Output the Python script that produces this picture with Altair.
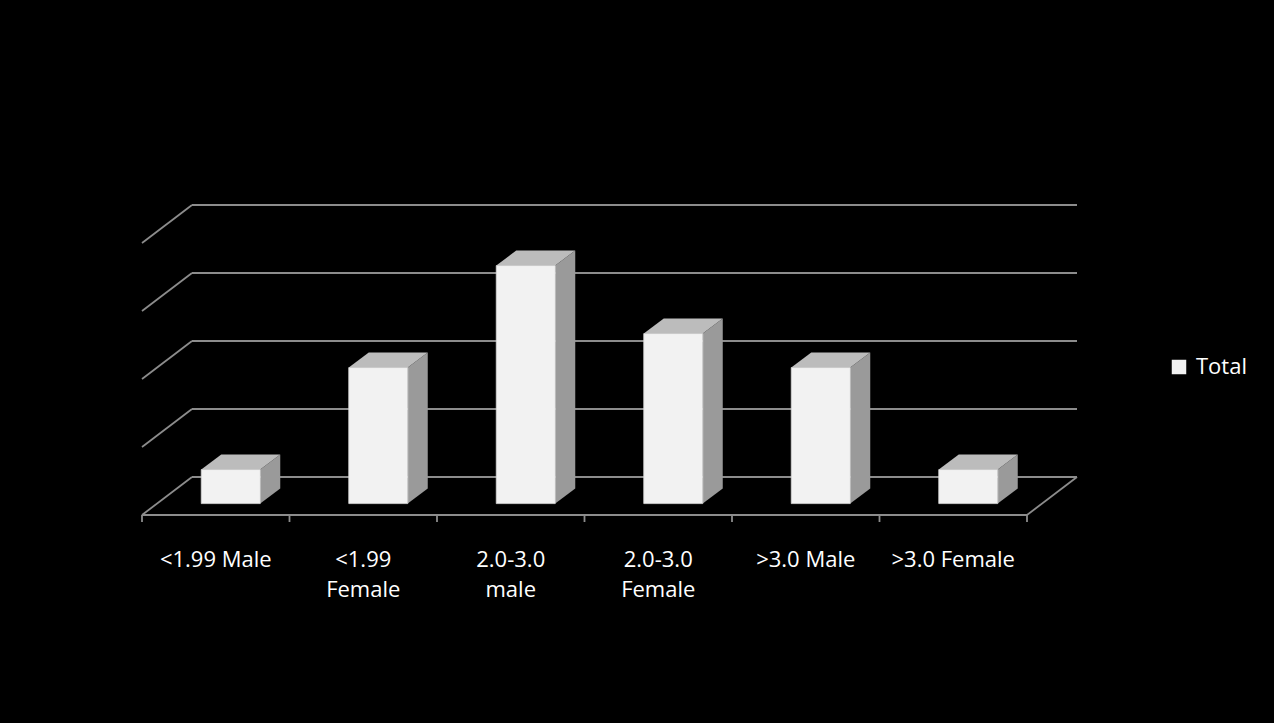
import altair as alt
import pandas as pd

# ---- data ----
categories = ["<1.99 Male", "<1.99\nFemale", "2.0-3.0\nmale", "2.0-3.0\nFemale", ">3.0 Male", ">3.0 Female"]
values = [1, 4, 7, 5, 4, 1]
gridlines = [0, 2, 4, 6, 8]
series_name = "Total"

# ---- pseudo-3D projection parameters (in scale units) ----
D = 50 / 147.5   # horizontal depth shift of the back wall (category units)
H = 38 / 34      # vertical depth shift of the back wall (value units)
N = len(categories)
FRONT, BACK = 0.3, 0.7   # bar depth span (0 = front of floor, 1 = back wall)

front_rows, side_rows, top_rows = [], [], []
for i, (c, v) in enumerate(zip(categories, values)):
    front_rows.append(dict(cat=c, series=series_name,
                           x1=i + 0.3 + FRONT * D, x2=i + 0.7 + FRONT * D,
                           y1=-(1 - FRONT) * H, y2=v - (1 - FRONT) * H))
    for d in (FRONT, BACK):
        side_rows.append(dict(cat=c, x=i + 0.7 + d * D,
                              top=v - (1 - d) * H, bot=-(1 - d) * H))
        top_rows.append(dict(cat=c, y=v - (1 - d) * H,
                             xl=i + 0.3 + d * D, xr=i + 0.7 + d * D))
front_df = pd.DataFrame(front_rows)
side_df = pd.DataFrame(side_rows)
top_df = pd.DataFrame(top_rows)

back_grid = pd.DataFrame(dict(x=[D] * len(gridlines), x2=[N + D] * len(gridlines), y=gridlines))
left_grid = pd.DataFrame(dict(x=[0] * len(gridlines), x2=[D] * len(gridlines),
                              y=[g - H for g in gridlines], y2=gridlines))
floor_df = pd.DataFrame(dict(x=[0, N], x2=[N, N + D], y=[-H, -H], y2=[-H, 0]))
tick_df = pd.DataFrame(dict(x=list(range(N + 1)), y=[-H] * (N + 1), y2=[-H - 0.206] * (N + 1)))
label_df = pd.DataFrame(dict(x=[i + 0.5 for i in range(N)], y=[-H] * N, label=categories))

xs = alt.Scale(domain=[0, N + D], nice=False, zero=False)
ys = alt.Scale(domain=[-H, 8], nice=False, zero=False)
GRID = "#8c8c8c"
FONT = "Open Sans"

grid_back = alt.Chart(back_grid).mark_rule(color=GRID, strokeWidth=1.8).encode(
    x=alt.X("x:Q", scale=xs, axis=None), x2="x2:Q", y=alt.Y("y:Q", scale=ys, axis=None))
grid_left = alt.Chart(left_grid).mark_rule(color=GRID, strokeWidth=1.8).encode(
    x=alt.X("x:Q", scale=xs, axis=None), x2="x2:Q",
    y=alt.Y("y:Q", scale=ys, axis=None), y2="y2:Q")
floor = alt.Chart(floor_df).mark_rule(color=GRID, strokeWidth=1.8).encode(
    x=alt.X("x:Q", scale=xs, axis=None), x2="x2:Q",
    y=alt.Y("y:Q", scale=ys, axis=None), y2="y2:Q")
ticks = alt.Chart(tick_df).mark_rule(color=GRID, strokeWidth=1.8).encode(
    x=alt.X("x:Q", scale=xs, axis=None),
    y=alt.Y("y:Q", scale=ys, axis=None), y2="y2:Q")

side = alt.Chart(side_df).mark_area(orient="vertical", color="#9a9a9a", interpolate="linear").encode(
    x=alt.X("x:Q", scale=xs, axis=None),
    y=alt.Y("top:Q", scale=ys, axis=None), y2="bot:Q", detail="cat:N")
top = alt.Chart(top_df).mark_area(orient="horizontal", color="#bcbcbc", interpolate="linear").encode(
    y=alt.Y("y:Q", scale=ys, axis=None),
    x=alt.X("xl:Q", scale=xs, axis=None), x2="xr:Q", detail="cat:N")
front = alt.Chart(front_df).mark_rect(stroke="#d8d8d8", strokeWidth=0.8).encode(
    x=alt.X("x1:Q", scale=xs, axis=None), x2="x2:Q",
    y=alt.Y("y1:Q", scale=ys, axis=None), y2="y2:Q",
    color=alt.Color("series:N",
                    scale=alt.Scale(domain=[series_name], range=["#f2f2f2"]),
                    legend=alt.Legend(orient="none", legendX=1026, legendY=151, title=None,
                                      symbolType="square", symbolSize=210, symbolStrokeWidth=0,
                                      labelFont=FONT, labelFontSize=22, labelColor="white",
                                      labelOffset=6, padding=0)))

labels = alt.Chart(label_df).mark_text(color="white", font=FONT, fontSize=22, baseline="alphabetic",
                                       align="center", dy=52, lineBreak="\n", lineHeight=30).encode(
    x=alt.X("x:Q", scale=xs, axis=None), y=alt.Y("y:Q", scale=ys, axis=None), text="label:N")

chart = alt.layer(grid_back, grid_left, floor, ticks, side, top, front, labels).properties(
    width=935, height=310,
    padding={"left": 142, "top": 205, "right": 197, "bottom": 208},
    autosize=alt.AutoSizeParams(type="none"),
    background="black",
).configure_view(stroke=None)

chart.save("out.html", embed_options={"renderer": "svg", "actions": False})
